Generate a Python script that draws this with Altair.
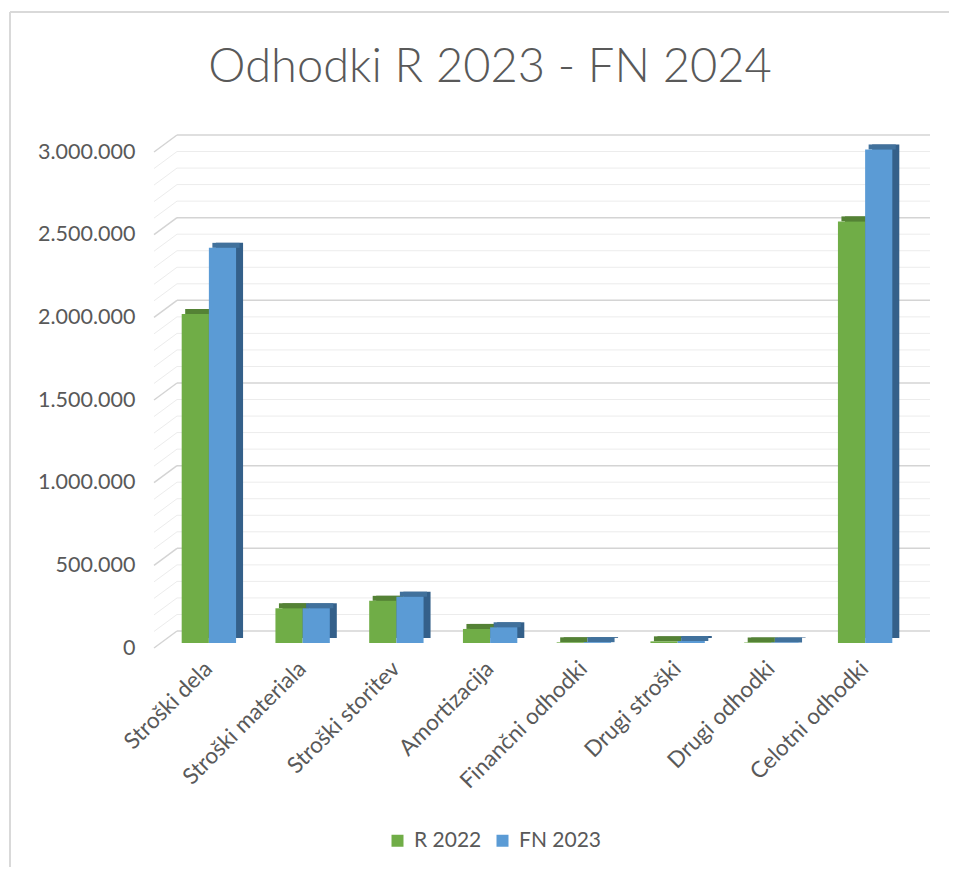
import altair as alt
import pandas as pd

categories = ["Stroški dela", "Stroški materiala", "Stroški storitev", "Amortizacija",
              "Finančni odhodki", "Drugi stroški", "Drugi odhodki", "Celotni odhodki"]
series_names = ["R 2022", "FN 2023"]
r2022 = [1990000, 210000, 255000, 85000, 4000, 10000, 3000, 2550000]
fn2023 = [2390000, 210000, 280000, 95000, 5000, 12000, 3000, 2985000]
major_ticks = [0, 500000, 1000000, 1500000, 2000000, 2500000, 3000000]
minor_ticks = [v * 100000 for v in range(31) if v % 5 != 0]
title_text = "Odhodki R 2023 - FN 2024"

rows = []
for c, a, b in zip(categories, r2022, fn2023):
    rows.append({"cat": c, "series": series_names[0], "value": a})
    rows.append({"cat": c, "series": series_names[1], "value": b})
df = pd.DataFrame(rows)

W, H = 750, 496
DX, DY = 7, -5
FONT = "Lato"
GRAY = "#595959"

front_cols = ["#70AD47", "#5B9BD5"]
top_cols = ["#548235", "#41719C"]
side_cols = ["#4A7330", "#34608A"]

y_scale = alt.Scale(domain=[0, 3000000], nice=False, zero=True)
y_axis = alt.Axis(values=major_ticks, grid=False, domain=False, ticks=False,
                  tickSize=0, labelPadding=27, labelFontSize=21.5, labelFont=FONT,
                  labelColor=GRAY, labelOffset=5, title=None,
                  labelExpr="replace(format(datum.value, ',d'), regexp(',', 'g'), '.')")


def x_enc(shift=0, show_axis=False):
    if show_axis:
        ax = alt.Axis(title=None, labelAngle=-45, labelFontSize=22.5, labelFont=FONT,
                      labelColor=GRAY, domain=False, ticks=False, tickSize=0,
                      labelPadding=14, labelOffset=-8, grid=False)
    else:
        ax = None
    return alt.X("cat:N", sort=categories,
                 scale=alt.Scale(paddingInner=0.42, paddingOuter=0.21,
                                 range=[shift, W + shift]), axis=ax)


xoff = alt.XOffset("series:N", sort=series_names,
                   scale=alt.Scale(paddingInner=0, paddingOuter=0))

# grid
gmin = pd.DataFrame({"v": minor_ticks})
gmaj = pd.DataFrame({"v": major_ticks})


def grid_layers(d, color, sw):
    back = alt.Chart(d).mark_rule(color=color, strokeWidth=sw, yOffset=-12).encode(
        y=alt.Y("v:Q", scale=y_scale, axis=y_axis),
        x=alt.value(15), x2=alt.value(768))
    slant = alt.Chart(d).mark_rule(color=color, strokeWidth=sw, yOffset=5, y2Offset=-12).encode(
        y=alt.Y("v:Q", scale=y_scale, axis=y_axis), y2=alt.Y2("v:Q"),
        x=alt.value(-8), x2=alt.value(15))
    return [back, slant]


side = alt.Chart(df).mark_bar(yOffset=DY, y2Offset=DY).encode(
    x=x_enc(DX), xOffset=xoff,
    y=alt.Y("value:Q", scale=y_scale, axis=y_axis),
    color=alt.Color("series:N", sort=series_names,
                    scale=alt.Scale(domain=series_names, range=side_cols), legend=None))

top = alt.Chart(df).mark_bar(yOffset=DY).encode(
    x=x_enc(DX / 2), xOffset=xoff,
    y=alt.Y("value:Q", scale=y_scale, axis=y_axis), y2=alt.Y2("value:Q"),
    color=alt.Color("series:N", sort=series_names,
                    scale=alt.Scale(domain=series_names, range=top_cols), legend=None))

front = alt.Chart(df).mark_bar().encode(
    x=x_enc(0, True), xOffset=xoff,
    y=alt.Y("value:Q", scale=y_scale, axis=y_axis),
    color=alt.Color("series:N", sort=series_names,
                    scale=alt.Scale(domain=series_names, range=front_cols),
                    legend=alt.Legend(title=None, orient="none", legendX=225, legendY=683,
                                      direction="horizontal", symbolType="square",
                                      symbolSize=144, symbolStrokeWidth=0,
                                      labelFontSize=21, labelFont=FONT, labelColor=GRAY,
                                      columnPadding=10, labelOffset=6, padding=0)))

title = alt.Chart(pd.DataFrame({"t": [title_text]})).mark_text(
    font=FONT, fontSize=47, fontWeight=300, color=GRAY, align="center",
    baseline="alphabetic").encode(
    text="t:N", x=alt.value(328), y=alt.value(-65))

bd = pd.DataFrame({"k": [0]})
border_v = alt.Chart(bd).mark_rule(color="#d9d9d9", strokeWidth=2).encode(
    x=alt.value(-152), y=alt.value(-135), y2=alt.value(720))
border_h = alt.Chart(bd).mark_rule(color="#d9d9d9", strokeWidth=2).encode(
    x=alt.value(-152), x2=alt.value(787), y=alt.value(-135))

layers = grid_layers(gmin, "#ececec", 1) + grid_layers(gmaj, "#d4d4d4", 1.5) + \
    [side, top, front, title, border_v, border_h]

chart = alt.layer(*layers).resolve_scale(color="independent", x="independent").properties(
    width=W, height=H,
    autosize=alt.AutoSizeParams(type="none"),
    padding={"left": 154, "top": 139, "right": 37, "bottom": 224},
).configure_view(stroke=None)

chart.save("out.html", embed_options={"renderer": "svg", "actions": False})
